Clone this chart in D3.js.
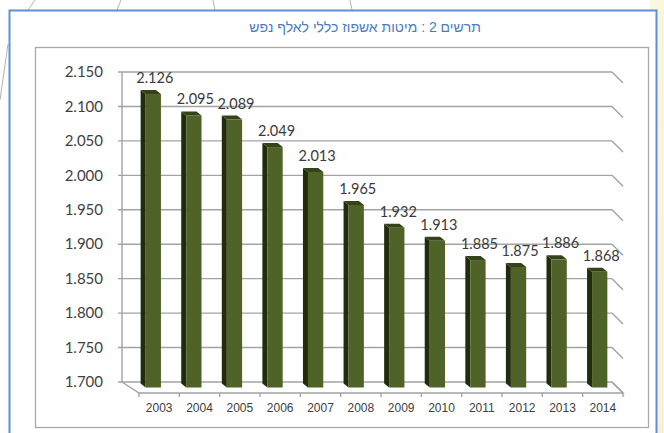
<!DOCTYPE html>
<html>
<head>
<meta charset="utf-8">
<script src="https://cdn.jsdelivr.net/npm/d3@7"></script>
<style>
  html, body { margin: 0; padding: 0; background: #ffffff; }
  svg { display: block; }
</style>
</head>
<body>
<svg id="chart" width="664" height="433"></svg>
<script>
// Hospital beds (general) per 1,000 population
const years  = ["2003","2004","2005","2006","2007","2008","2009","2010","2011","2012","2013","2014"];
const values = [2.126, 2.095, 2.089, 2.049, 2.013, 1.965, 1.932, 1.913, 1.885, 1.875, 1.886, 1.868];
const yTicks = [1.700, 1.750, 1.800, 1.850, 1.900, 1.950, 2.000, 2.050, 2.100, 2.150];
const title  = "תרשים 2 : מיטות אשפוז כללי לאלף נפש";

const svg = d3.select("#chart");
const fmt = d3.format(".3f");

// page decoration around the frame
const defs = svg.append("defs");
const cream = defs.append("linearGradient").attr("id", "cream")
  .attr("x1", 0).attr("y1", 0).attr("x2", 1).attr("y2", 1);
cream.append("stop").attr("offset", "0%").attr("stop-color", "#fbf8e2");
cream.append("stop").attr("offset", "100%").attr("stop-color", "#f6f2d6");
svg.append("rect").attr("x", 650).attr("y", 0).attr("width", 14).attr("height", 433).attr("fill", "url(#cream)");

const deco = svg.append("g").attr("stroke", "#b4b4b4").attr("stroke-width", 1).attr("fill", "none");
[[35,0,28,10],[121,0,117,10],[213,0,215,10],[350,0,352,10],[8,44,0,100]].forEach(d =>
  deco.append("line").attr("x1", d[0]).attr("y1", d[1]).attr("x2", d[2]).attr("y2", d[3]));

// outer frame
svg.append("rect").attr("x", 9.5).attr("y", 10.5).attr("width", 647).attr("height", 440)
  .attr("fill", "#ffffff").attr("stroke", "#5d8fd4").attr("stroke-width", 2);

svg.append("text")
  .attr("x", 365).attr("y", 32)
  .attr("text-anchor", "middle")
  .attr("direction", "rtl")
  .attr("font-family", "'Liberation Sans', Arial, sans-serif")
  .attr("font-size", 14)
  .attr("fill", "#4a7cbf")
  .text(title);

// inner chart box
svg.append("rect").attr("x", 35.5).attr("y", 47.5).attr("width", 613).attr("height", 380)
  .attr("fill", "#ffffff").attr("stroke", "#a9a9a9").attr("stroke-width", 1.3);

// 3D geometry: back wall, floor depth
const backL = 122, backR = 612, frontL = 139, frontR = 623, depthY = 11;
const yBack = d3.scaleLinear().domain([1.7, 2.15]).range([382, 72]);
const xFront = d3.scaleBand().domain(years).range([frontL, frontR]);
const xBar = d3.scaleBand().domain(years).range([130.5, 617.5]).paddingInner(0.5).paddingOuter(0.25);
const midDY = 5.5;

const grid = svg.append("g").attr("fill", "none").attr("stroke", "#a3a3a3").attr("stroke-width", 1.4);
yTicks.forEach(t => {
  const y = yBack(t);
  grid.append("line").attr("x1", backL - 4).attr("x2", backR).attr("y1", y).attr("y2", y);
  grid.append("line").attr("x1", backR).attr("y1", y).attr("x2", frontR).attr("y2", y + depthY);
});
// value axis line
grid.append("line").attr("x1", backL).attr("x2", backL).attr("y1", yBack(2.15)).attr("y2", yBack(1.7));
// floor
grid.append("path").attr("d", d3.line()([
  [backL, yBack(1.7)], [frontL, yBack(1.7) + depthY], [frontR, yBack(1.7) + depthY], [backR, yBack(1.7)]
]));
// category tick marks on front floor edge
const tickXs = years.map(y => xFront(y)).concat([frontR]);
tickXs.forEach(x => grid.append("line").attr("x1", x).attr("x2", x)
  .attr("y1", yBack(1.7) + depthY).attr("y2", yBack(1.7) + depthY + 4));

// y-axis labels
svg.append("g").selectAll("text").data(yTicks).join("text")
  .attr("x", 103).attr("y", d => yBack(d))
  .attr("dy", "0.35em")
  .attr("text-anchor", "end")
  .attr("font-family", "Lato, 'Open Sans', sans-serif")
  .attr("font-size", 15)
  .attr("fill", "#3f3f3f")
  .text(d => fmt(d));

// x-axis labels
svg.append("g").selectAll("text").data(years).join("text")
  .attr("x", d => xFront(d) + xFront.bandwidth() / 2).attr("y", 412)
  .attr("text-anchor", "middle")
  .attr("font-family", "'Liberation Sans', Arial, sans-serif")
  .attr("font-size", 12)
  .attr("fill", "#404040")
  .text(d => d);

// 3D bars
const side = 5, cap = 4;
const bars = svg.append("g");
const data = years.map((y, i) => ({ year: y, value: values[i] }));
const bottom = yBack(1.7) + midDY;
data.forEach(d => {
  const x0 = xBar(d.year), w = xBar.bandwidth();
  const top = yBack(d.value) + midDY;
  const g = bars.append("g");
  // left side face
  g.append("path").attr("fill", "#222b0b").attr("d", d3.line()([
    [x0, top - cap], [x0 + side, top], [x0 + side, bottom], [x0, bottom - cap]
  ]) + "Z");
  // top face
  g.append("path").attr("fill", "#36431a").attr("d", d3.line()([
    [x0, top - cap], [x0 + w - side, top - cap], [x0 + w, top], [x0 + side, top]
  ]) + "Z");
  // front face
  g.append("rect").attr("x", x0 + side).attr("y", top)
    .attr("width", w - side).attr("height", bottom - top).attr("fill", "#4f6228");
});

// value labels
svg.append("g").selectAll("text").data(data).join("text")
  .attr("x", d => xBar(d.year) + xBar.bandwidth() / 2 + 4)
  .attr("y", d => yBack(d.value) + midDY - 11)
  .attr("text-anchor", "middle")
  .attr("font-family", "Lato, 'Open Sans', sans-serif")
  .attr("font-size", 14.5)
  .attr("fill", "#3a3a3a")
  .text(d => fmt(d.value));
</script>
</body>
</html>
